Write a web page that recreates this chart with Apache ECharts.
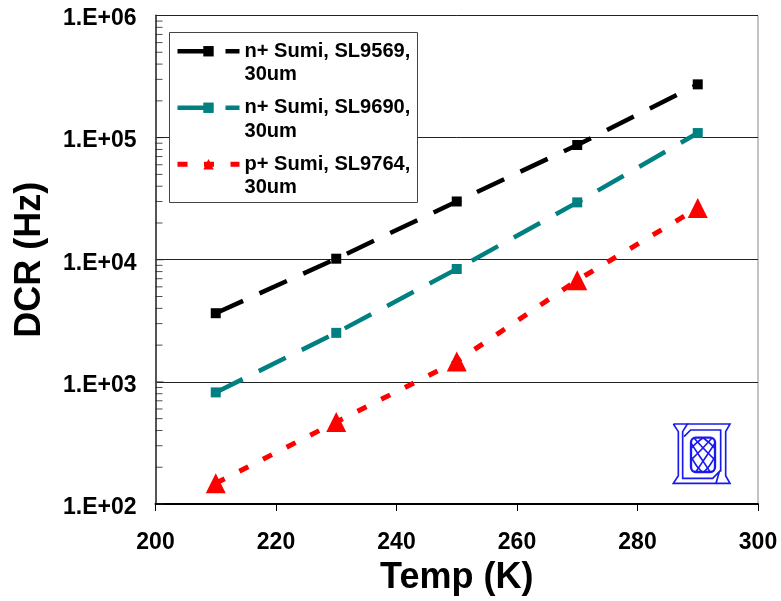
<!DOCTYPE html>
<html>
<head>
<meta charset="utf-8">
<style>
  html, body { margin: 0; padding: 0; background: #fff; }
  #chart { width: 781px; height: 601px; }
</style>
<script src="https://cdn.jsdelivr.net/npm/echarts@6/dist/echarts.min.js"></script>
</head>
<body>
<div id="chart"></div>
<script>
const temps = [210, 230, 250, 270, 290];
const sl9569 = [3650, 10200, 30000, 87000, 273000];
const sl9690 = [820, 2520, 8400, 29500, 109000];
const sl9764 = [148, 470, 1470, 6800, 26500];
const seriesNames = ['\nn+ Sumi, SL9569,\n30um', '\nn+ Sumi, SL9690,\n30um', '\np+ Sumi, SL9764,\n30um'];
const minorTicks = [200, 300, 400, 500, 600, 700, 800, 900,
  2000, 3000, 4000, 5000, 6000, 7000, 8000, 9000,
  20000, 30000, 40000, 50000, 60000, 70000, 80000, 90000,
  200000, 300000, 400000, 500000, 600000, 700000, 800000, 900000];
const majorTicks = [100, 1000, 10000, 100000, 1000000];

const font = 'Liberation Sans';
const logoBlue = '#1a1aee';
const toPairs = (vals) => temps.map((t, i) => [t, vals[i]]);
const line = (name, vals, color, dash, width, symbol, size) => ({
  name, type: 'line', data: toPairs(vals), symbol, symbolSize: size,
  itemStyle: { color },
  lineStyle: { color, width, type: dash, cap: 'butt' },
  showSymbol: true, animation: false
});
const logoLine = (points, smooth) => ({
  type: 'polyline', shape: { points, smooth: smooth || 0 },
  style: { fill: 'none', stroke: logoBlue, lineWidth: 5 }
});
// log spaced ticks on the left axis, small flat markers on the y scale
const tickSeries = (values, len) => ({
  type: 'scatter', silent: true, clip: false, z: 1,
  data: values.map((v) => [200, v]),
  symbol: 'rect', symbolSize: [len, 1], symbolOffset: [len / 2, 0],
  itemStyle: { color: '#222' }
});

const chart = echarts.init(document.getElementById('chart'));
chart.setOption({
  animation: false,
  backgroundColor: '#fff',
  grid: { show: true, left: 155.5, right: 23, top: 15.5, bottom: 96, borderColor: '#888', borderWidth: 1 },
  xAxis: {
    type: 'value', min: 200, max: 300, interval: 20,
    name: 'Temp (K)', nameLocation: 'middle', nameGap: 56,
    nameTextStyle: { fontFamily: font, fontWeight: 'bold', fontSize: 36, color: '#000' },
    axisLine: { lineStyle: { color: '#000', width: 2 } },
    axisTick: { show: true, inside: false, length: 7, lineStyle: { color: '#000', width: 1 } },
    axisLabel: { fontFamily: font, fontWeight: 'bold', fontSize: 23, color: '#000', margin: 27 },
    splitLine: { show: false }
  },
  yAxis: {
    type: 'log', logBase: 10, min: 100, max: 1000000,
    name: 'DCR (Hz)', nameLocation: 'middle', nameGap: 107, nameRotate: 90,
    nameTextStyle: { fontFamily: font, fontWeight: 'bold', fontSize: 36, color: '#000' },
    axisLine: { onZero: false, lineStyle: { color: '#555', width: 2 } },
    axisTick: { show: false },
    axisLabel: {
      margin: 19,
      // empty spacer line pushes the label a few px under its tick
      formatter: (v) => '{gap| }\n{tick|1.E+' + String(Math.round(Math.log10(v))).padStart(2, '0') + '}',
      rich: {
        gap: { fontSize: 1, lineHeight: 7 },
        tick: { fontFamily: font, fontWeight: 'bold', fontSize: 23, color: '#000', lineHeight: 26 }
      }
    },
    splitLine: { show: true, lineStyle: { color: '#222', width: 1 } }
  },
  legend: {
    orient: 'vertical', left: 170, top: 11, padding: 5, itemGap: -14,
    itemWidth: 62, itemHeight: 13,
    lineStyle: { width: 'inherit' },
    textStyle: { fontFamily: font, fontWeight: 'bold', fontSize: 20.1, color: '#000', lineHeight: 23.5 },
    data: seriesNames, z: 6
  },
  series: [
    line(seriesNames[0], sl9569, '#000000', [30, 18], 4.5, 'rect', 10),
    line(seriesNames[1], sl9690, '#008080', [30, 18], 4.5, 'rect', 10),
    line(seriesNames[2], sl9764, '#ff0000', [10, 16.5], 5, 'triangle', 20),
    tickSeries(minorTicks, 7),
    tickSeries(majorTicks, 8)
  ],
  graphic: [
    { type: 'rect', z: 3, shape: { x: 169.5, y: 32.5, width: 248, height: 170 },
      style: { fill: '#fff', stroke: '#444', lineWidth: 1 } },
    // logo, points are in 3x units so they line up with the zoomed crop
    { type: 'group', x: 660, y: 410, scaleX: 1 / 3, scaleY: 1 / 3, z: 4, children: [
      logoLine([[40, 42], [82, 42], [68, 65], [68, 205], [158, 205], [178, 185], [168, 220], [40, 220], [55, 197], [55, 65], [40, 42]]),
      logoLine([[82, 42], [210, 42], [197, 65], [197, 197], [210, 220], [168, 220]]),
      logoLine([[72, 80], [92, 60], [182, 60], [182, 185]]),
      { type: 'rect', shape: { x: 93, y: 83, width: 72, height: 103, r: 14 },
        style: { fill: 'none', stroke: logoBlue, lineWidth: 7 } },
      logoLine([[93, 100], [120, 140], [150, 185]], 0.3),
      logoLine([[102, 84], [135, 120], [165, 150]], 0.3),
      logoLine([[130, 84], [150, 100], [165, 115]], 0.3),
      logoLine([[93, 140], [108, 165], [125, 185]], 0.3),
      logoLine([[165, 100], [138, 140], [108, 185]], 0.3),
      logoLine([[156, 84], [123, 120], [93, 150]], 0.3),
      logoLine([[128, 84], [108, 100], [93, 115]], 0.3),
      logoLine([[165, 140], [150, 165], [133, 185]], 0.3)
    ] }
  ]
});
</script>
</body>
</html>
